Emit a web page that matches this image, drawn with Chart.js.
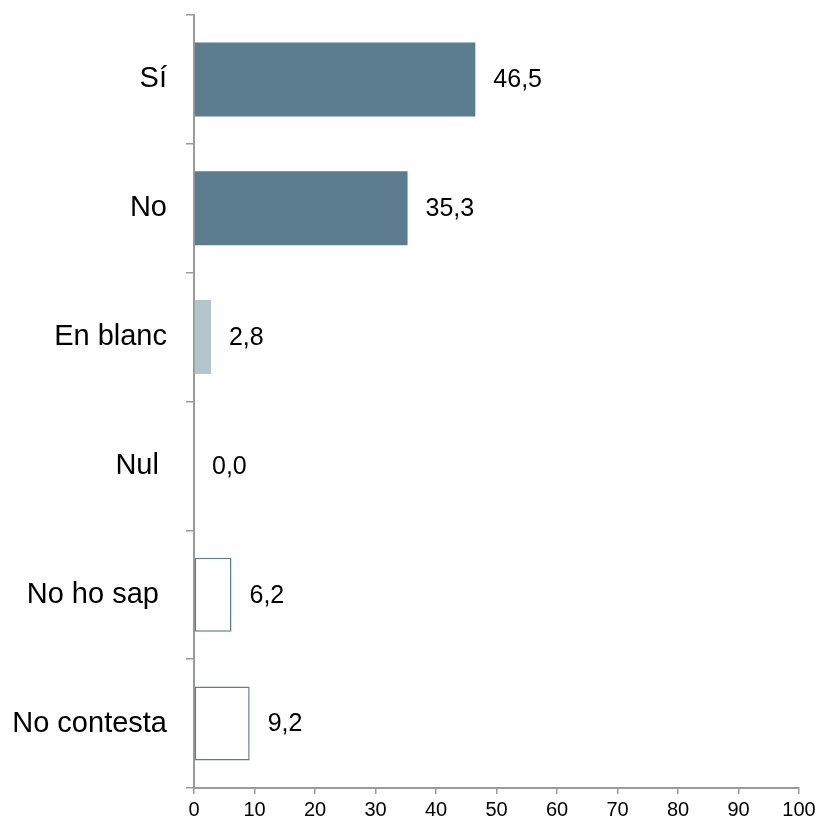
<!DOCTYPE html>
<html>
<head>
<meta charset="utf-8">
<script src="https://cdn.jsdelivr.net/npm/chart.js@4"></script>
<style>
  html, body { margin: 0; padding: 0; background: #fff; }
  #wrap { width: 828px; height: 824px; }
</style>
</head>
<body>
<div id="wrap"><canvas id="chart" width="828" height="824"></canvas></div>
<script>
const categories = ["Sí", "No", "En blanc", "Nul ", "No ho sap ", "No contesta"];
const values = [46.5, 35.3, 2.8, 0.0, 6.2, 9.2];
const xTicks = [0, 10, 20, 30, 40, 50, 60, 70, 80, 90, 100];

const dark = "#5B7D8F";
const light = "#B4C4CC";
const axisGrey = "#9A9A9A";

// value labels next to each bar
const valueLabels = {
  id: "valueLabels",
  afterDatasetsDraw(chart) {
    const ctx = chart.ctx;
    const meta = chart.getDatasetMeta(0);
    ctx.save();
    ctx.font = "25px 'Liberation Sans', Arial, sans-serif";
    ctx.fillStyle = "#000";
    ctx.textBaseline = "middle";
    ctx.textAlign = "left";
    meta.data.forEach((bar, i) => {
      const txt = values[i].toFixed(1).replace(".", ",");
      ctx.fillText(txt, bar.x + 18, bar.y + 1);
    });
    ctx.restore();
  }
};

new Chart(document.getElementById("chart"), {
  type: "bar",
  data: {
    labels: categories,
    datasets: [{
      data: values,
      backgroundColor: [dark, dark, light, dark, "#fff", "#fff"],
      borderColor: [dark, dark, light, dark, dark, dark],
      borderWidth: [0, 0, 0, 0, 1.5, 1.5],
      borderSkipped: false,
      barPercentage: 0.575,
      categoryPercentage: 1
    }]
  },
  options: {
    indexAxis: "y",
    responsive: false,
    animation: false,
    layout: { padding: { top: 15, right: 29, left: 0, bottom: 0 } },
    plugins: { legend: { display: false }, tooltip: { enabled: false } },
    scales: {
      x: {
        min: 0,
        max: 100,
        afterBuildTicks(scale) { scale.ticks = xTicks.map(v => ({ value: v })); },
        afterFit(scale) { scale.height = 36; },
        border: { display: true, color: axisGrey, width: 2 },
        grid: { drawOnChartArea: false, drawTicks: true, tickLength: 6, color: axisGrey, lineWidth: 1.5 },
        ticks: {
          color: "#000",
          padding: 4,
          maxRotation: 0,
          font: { family: "'Liberation Sans Narrow', 'Arial Narrow', 'Liberation Sans', Arial", size: 20 }
        }
      },
      y: {
        afterFit(scale) {
          scale.width = 194;
          scale.paddingTop = 0;
          scale.paddingBottom = 0;
        },
        border: { display: true, color: axisGrey, width: 2 },
        grid: { offset: true, drawOnChartArea: false, drawTicks: true, tickLength: 8, color: axisGrey, lineWidth: 1.5 },
        ticks: {
          color: "#000",
          padding: 19,
          font: { family: "'Liberation Sans', Arial, sans-serif", size: 29 }
        }
      }
    }
  },
  plugins: [valueLabels]
});
</script>
</body>
</html>
